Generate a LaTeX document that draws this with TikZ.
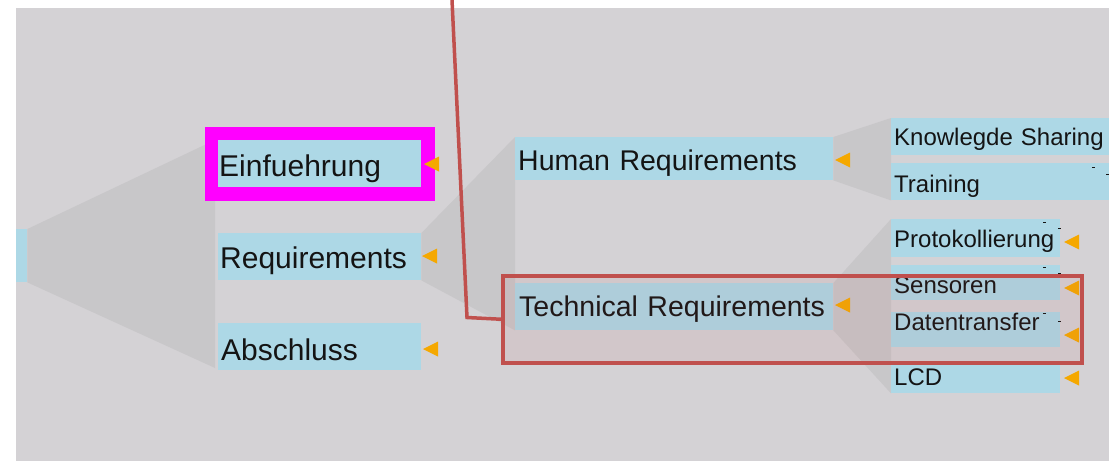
\documentclass[tikz,border=0pt]{standalone}
\usepackage{fontspec}
\setmainfont{Liberation Sans}
\usetikzlibrary{calc,backgrounds}
\definecolor{panel}{HTML}{D4D2D5}
\definecolor{fanc}{HTML}{C8C7C9}
\definecolor{boxc}{HTML}{ADD8E6}
\definecolor{tric}{HTML}{F5A800}
\definecolor{selc}{HTML}{C0504D}
\definecolor{txt}{HTML}{141414}
\definecolor{focus}{HTML}{FF00FF}

\tikzset{
  box/.style={fill=boxc, anchor=north west, inner ysep=0pt, align=left, text=txt},
  big/.style={box, font=\fontsize{30}{30}\selectfont},
  mid/.style={box, font=\fontsize{28.5}{28.5}\selectfont},
  small/.style={box, inner xsep=3pt, text width=163pt, font=\fontsize{24}{24}\selectfont},
  fan/.style={fill=fanc},
  pointer/.style={fill=tric},
  selframe/.style={draw=selc, line width=3.5pt, fill=selc, fill opacity=0.08},
  link/.style={draw=selc, line width=3.5pt},
  tick/.style={draw=txt, line width=0.8pt},
}
% left-pointing collapse marker with its tip at (#1,#2)
\newcommand\pointerat[2]{\fill[pointer] (#1,#2) -- ++(15,-7.5) -- ++(0,15) -- cycle;}

\begin{document}
\begin{tikzpicture}[x=1pt,y=-1pt]
\useasboundingbox (0,0) rectangle (1109,461);
\begin{pgfonlayer}{background}
  \fill[white] (0,0) rectangle (1109,461);
  \fill[panel] (16,8) rectangle (1109,461);
\end{pgfonlayer}

% root
\node[box, minimum width=11pt, minimum height=53pt, inner sep=0pt] (root) at (16,229) {};

% first level
\node[big, inner xsep=1pt, text width=201pt, text height=36pt, text depth=11pt] (einf) at (218,140) {Einfuehrung};
\node[big, inner xsep=2pt, text width=199pt, text height=35pt, text depth=12pt] (req) at (218,233) {Requirements};
\node[big, inner xsep=3pt, text width=197pt, text height=37pt, text depth=10pt] (absch) at (218,323) {Abschluss};

% second level
\node[mid, inner xsep=3pt, text width=312pt, text height=33pt, text depth=10pt] (hum) at (515,137) {\mbox{Human Requirements}};
\node[mid, inner xsep=4pt, text width=310pt, text height=33pt, text depth=14pt] (tech) at (515,283) {\mbox{Technical Requirements}};

% third level
\node[box, inner xsep=3pt, text width=212pt, text height=27pt, text depth=10pt, font=\fontsize{24}{24}\selectfont] (know) at (891,118) {\mbox{Knowlegde Sharing}};
\node[box, inner xsep=3pt, text width=212pt, text height=29pt, text depth=8pt, font=\fontsize{24}{24}\selectfont] (train) at (891,163) {Training};
\node[small, text height=28pt, text depth=10pt] (prot) at (891,219) {Protokollierung};
\node[small, text height=28pt, text depth=7pt] (sens) at (891,265) {Sensoren};
\node[small, text height=18pt, text depth=17pt] (daten) at (891,312) {Datentransfer};
\node[small, text height=23pt, text depth=8pt] (lcd) at (891,362) {LCD};

% fans joining each parent to its children
\begin{pgfonlayer}{background}
  \fill[fan] (root.north east) -- (215,140) -- (215,368) -- (root.south east) -- cycle;
  \fill[fan] (req.north east) -- (hum.north west) -- (tech.south west) -- (req.south east) -- cycle;
  \fill[fan] (hum.north east) -- (know.north west) -- (train.south west) -- (hum.south east) -- cycle;
  \fill[fan] (tech.north east) -- (prot.north west) -- (lcd.south west) -- (tech.south east) -- cycle;
\end{pgfonlayer}

% focus frame
\draw[focus, line width=13.5pt] ($(einf.north west)+(-6.75,-6.75)$) rectangle ($(einf.south east)+(6.75,6.75)$);

% collapse markers
\pointerat{424}{164}
\pointerat{422}{256}
\pointerat{423}{349}
\pointerat{835}{160}
\pointerat{835}{305}
\pointerat{1064}{242}
\pointerat{1064}{288}
\pointerat{1064}{335}
\pointerat{1064}{378}

% small ticks
\draw[tick] (1092,167) -- ++(3,0);
\draw[tick] (1106,174) -- ++(3,0);
\draw[tick] (1043,222) -- ++(3,0);
\draw[tick] (1058,228) -- ++(3,0);
\draw[tick] (1043,267) -- ++(3,0);
\draw[tick] (1058,273) -- ++(3,0);
\draw[tick] (1043,313) -- ++(3,0);
\draw[tick] (1058,321) -- ++(3,0);

% selection frame and its pointer line
\node[selframe, anchor=north west, minimum width=579pt, minimum height=87pt, inner sep=0pt] (sel) at (501,274) {};
\coordinate (ltop) at (452,0);
\draw[link] (ltop) -- (467,317.5) -- (sel.west);
\end{tikzpicture}
\end{document}
